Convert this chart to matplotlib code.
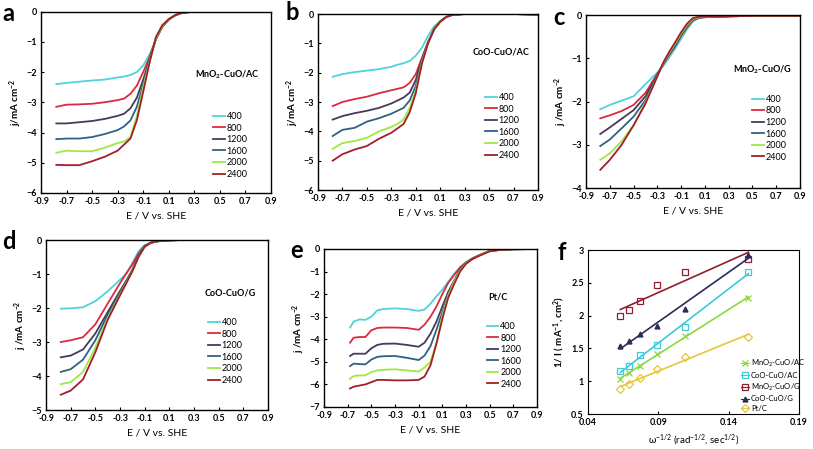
import numpy as np
import matplotlib.pyplot as plt
from matplotlib.lines import Line2D

plt.rcParams['font.family'] = ['Lato', 'DejaVu Sans']
plt.rcParams['mathtext.default'] = 'regular'

speeds = ['400', '800', '1200', '1600', '2000', '2400']
colors = ['#4fd2da', '#dc2a3c', '#463a5c', '#2e6184', '#9de845', '#a31d2b']

# a: MnO2-CuO/AC
E_a = [-0.78, -0.7, -0.6, -0.5, -0.4, -0.3, -0.25, -0.2, -0.15, -0.1, -0.05, 0.0, 0.05, 0.1, 0.15, 0.2, 0.3, 0.5, 0.7, 0.9]
j_a = [
    [-2.40, -2.36, -2.32, -2.28, -2.25, -2.18, -2.15, -2.10, -2.00, -1.78, -1.42, -0.92, -0.50, -0.27, -0.13, -0.05, 0, 0, 0, 0],
    [-3.15, -3.08, -3.07, -3.05, -3.00, -2.93, -2.88, -2.72, -2.45, -2.00, -1.50, -0.90, -0.50, -0.27, -0.13, -0.05, 0, 0, 0, 0],
    [-3.70, -3.70, -3.66, -3.62, -3.55, -3.45, -3.38, -3.20, -2.85, -2.25, -1.58, -0.90, -0.49, -0.26, -0.12, -0.05, 0, 0, 0, 0],
    [-4.22, -4.20, -4.20, -4.15, -4.05, -3.92, -3.80, -3.60, -3.15, -2.40, -1.62, -0.88, -0.48, -0.26, -0.12, -0.05, 0, 0, 0, 0],
    [-4.67, -4.60, -4.62, -4.62, -4.50, -4.35, -4.30, -4.15, -3.45, -2.50, -1.65, -0.87, -0.47, -0.25, -0.12, -0.05, 0, 0, 0, 0],
    [-5.07, -5.08, -5.08, -4.95, -4.80, -4.60, -4.40, -4.20, -3.60, -2.65, -1.68, -0.84, -0.45, -0.25, -0.12, -0.05, 0, 0, 0, 0],
]

# b: CoO-CuO/AC
E_b = [-0.78, -0.7, -0.6, -0.5, -0.4, -0.3, -0.25, -0.2, -0.15, -0.1, -0.05, 0.0, 0.05, 0.1, 0.15, 0.2, 0.3, 0.5, 0.7, 0.9]
j_b = [
    [-2.14, -2.05, -1.98, -1.93, -1.88, -1.80, -1.73, -1.68, -1.60, -1.42, -1.15, -0.75, -0.42, -0.24, -0.10, -0.03, 0, 0, 0, -0.02],
    [-3.14, -3.00, -2.90, -2.82, -2.70, -2.60, -2.55, -2.50, -2.35, -2.05, -1.50, -0.95, -0.52, -0.26, -0.10, -0.03, 0, 0, 0, -0.02],
    [-3.60, -3.48, -3.38, -3.30, -3.20, -3.05, -2.95, -2.85, -2.68, -2.25, -1.55, -0.98, -0.52, -0.26, -0.10, -0.03, 0, 0, 0, -0.02],
    [-4.16, -3.95, -3.88, -3.67, -3.55, -3.40, -3.30, -3.20, -2.95, -2.45, -1.60, -1.00, -0.52, -0.26, -0.10, -0.03, 0, 0, 0, -0.02],
    [-4.60, -4.40, -4.33, -4.22, -4.00, -3.85, -3.75, -3.60, -3.20, -2.60, -1.65, -1.00, -0.52, -0.26, -0.10, -0.03, 0, 0, 0, -0.02],
    [-5.00, -4.78, -4.62, -4.50, -4.25, -4.05, -3.90, -3.75, -3.35, -2.70, -1.70, -1.00, -0.52, -0.26, -0.10, -0.03, 0, 0, 0, -0.02],
]

# c: MnO2-CuO/G
E_c = [-0.78, -0.7, -0.6, -0.5, -0.4, -0.3, -0.25, -0.2, -0.15, -0.1, -0.05, 0.0, 0.05, 0.1, 0.2, 0.3, 0.5, 0.7, 0.9]
j_c = [
    [-2.18, -2.08, -1.98, -1.88, -1.60, -1.33, -1.18, -0.98, -0.78, -0.55, -0.33, -0.15, -0.07, -0.05, -0.04, -0.03, -0.02, -0.02, -0.02],
    [-2.39, -2.32, -2.22, -2.08, -1.80, -1.36, -1.14, -0.92, -0.72, -0.48, -0.28, -0.12, -0.06, -0.05, -0.04, -0.03, -0.02, -0.02, -0.02],
    [-2.75, -2.60, -2.40, -2.20, -1.88, -1.38, -1.13, -0.90, -0.70, -0.47, -0.26, -0.11, -0.06, -0.05, -0.04, -0.03, -0.02, -0.02, -0.02],
    [-3.03, -2.88, -2.62, -2.35, -1.97, -1.40, -1.12, -0.89, -0.68, -0.45, -0.25, -0.10, -0.05, -0.05, -0.04, -0.03, -0.02, -0.02, -0.02],
    [-3.35, -3.20, -2.92, -2.55, -2.02, -1.42, -1.11, -0.87, -0.66, -0.43, -0.23, -0.09, -0.05, -0.05, -0.04, -0.03, -0.02, -0.02, -0.02],
    [-3.58, -3.35, -3.00, -2.55, -2.05, -1.42, -1.10, -0.85, -0.63, -0.40, -0.20, -0.07, -0.04, -0.04, -0.04, -0.03, -0.02, -0.02, -0.02],
]

# d: CoO-CuO/G
E_d = [-0.78, -0.7, -0.6, -0.5, -0.4, -0.3, -0.25, -0.2, -0.15, -0.1, -0.05, 0.0, 0.05, 0.1, 0.2, 0.3, 0.5, 0.7, 0.9]
j_d = [
    [-2.02, -2.01, -1.98, -1.80, -1.51, -1.17, -0.99, -0.68, -0.33, -0.15, -0.08, -0.04, -0.02, -0.01, 0, 0, 0, 0, 0],
    [-3.00, -2.95, -2.86, -2.48, -1.87, -1.27, -0.99, -0.72, -0.40, -0.17, -0.08, -0.04, -0.02, -0.01, 0, 0, 0, 0, 0],
    [-3.45, -3.40, -3.22, -2.75, -2.12, -1.50, -1.20, -0.88, -0.45, -0.18, -0.08, -0.04, -0.02, -0.01, 0, 0, 0, 0, 0],
    [-3.88, -3.80, -3.52, -2.95, -2.20, -1.55, -1.23, -0.90, -0.47, -0.19, -0.08, -0.04, -0.02, -0.01, 0, 0, 0, 0, 0],
    [-4.24, -4.18, -3.88, -3.17, -2.30, -1.60, -1.26, -0.92, -0.50, -0.20, -0.08, -0.04, -0.02, -0.01, 0, 0, 0, 0, 0],
    [-4.55, -4.43, -4.10, -3.30, -2.35, -1.63, -1.28, -0.92, -0.50, -0.20, -0.08, -0.04, -0.02, -0.01, 0, 0, 0, 0, 0],
]

# e: Pt/C
E_e = [-0.68, -0.65, -0.6, -0.55, -0.5, -0.45, -0.4, -0.3, -0.2, -0.1, -0.05, 0.0, 0.05, 0.1, 0.15, 0.2, 0.25, 0.3, 0.35, 0.4, 0.5, 0.6, 0.7, 0.9]
j_e = [
    [-3.48, -3.22, -3.12, -3.14, -3.00, -2.72, -2.66, -2.63, -2.66, -2.74, -2.68, -2.42, -2.10, -1.80, -1.45, -1.10, -0.80, -0.58, -0.42, -0.30, -0.08, -0.03, -0.01, 0],
    [-4.15, -3.93, -3.90, -3.90, -3.60, -3.50, -3.48, -3.48, -3.50, -3.58, -3.35, -3.00, -2.55, -2.00, -1.50, -1.15, -0.82, -0.60, -0.43, -0.30, -0.08, -0.03, -0.01, 0],
    [-4.74, -4.64, -4.64, -4.64, -4.40, -4.25, -4.20, -4.19, -4.25, -4.33, -4.15, -3.75, -3.22, -2.55, -1.90, -1.40, -0.90, -0.62, -0.44, -0.31, -0.09, -0.03, -0.01, 0],
    [-5.19, -5.08, -5.10, -5.11, -4.90, -4.78, -4.75, -4.74, -4.82, -4.92, -4.72, -4.30, -3.58, -2.80, -2.05, -1.50, -0.93, -0.63, -0.45, -0.31, -0.09, -0.03, -0.01, 0],
    [-5.75, -5.63, -5.60, -5.60, -5.45, -5.38, -5.35, -5.33, -5.38, -5.43, -5.25, -5.00, -4.15, -2.95, -2.05, -1.45, -0.96, -0.64, -0.46, -0.32, -0.09, -0.03, -0.01, 0],
    [-6.18, -6.10, -6.05, -6.00, -5.90, -5.80, -5.80, -5.82, -5.82, -5.80, -5.65, -5.15, -4.20, -3.10, -2.15, -1.55, -1.00, -0.66, -0.46, -0.33, -0.10, -0.03, -0.01, 0],
]

# f: Koutecky-Levich
w_inv = [0.063, 0.069, 0.077, 0.089, 0.109, 0.154]
kl_names = ['MnO$_2$-CuO/AC', 'CoO-CuO/AC', 'MnO$_2$-CuO/G', 'CoO-CuO/G', 'Pt/C']
kl_vals = [
    [1.03, 1.12, 1.23, 1.42, 1.69, 2.27],
    [1.15, 1.23, 1.40, 1.55, 1.83, 2.67],
    [2.00, 2.09, 2.23, 2.46, 2.66, 2.87],
    [1.54, 1.61, 1.72, 1.84, 2.10, 2.93],
    [0.88, 0.95, 1.05, 1.18, 1.37, 1.68],
]
kl_colors = ['#8ed640', '#3cc9d8', '#8e1f2e', '#2c2b5c', '#e8c63a']
kl_markers = ['x', 's', 's', '^', 'D']

fig = plt.figure(figsize=(8.13, 4.49), dpi=100)


def lsv_panel(rect, E, J, ymin, ylabel, title, leg_xy, ann_xy):
    ax = fig.add_axes(rect)
    for jj, c, s in zip(J, colors, speeds):
        ax.plot(E, jj, color=c, lw=1.3, label=s)
    ax.set_xlim(-0.9, 0.9)
    ax.set_ylim(ymin, 0)
    ax.set_xticks(np.arange(-0.9, 0.91, 0.2))
    ax.set_xticklabels(['-0.9', '-0.7', '-0.5', '-0.3', '-0.1', '0.1', '0.3', '0.5', '0.7', '0.9'])
    ax.set_yticks(range(ymin, 1))
    ax.tick_params(direction='in', length=2.5, width=0.8, labelsize=6.5, pad=3)
    for t in ax.get_xticklabels() + ax.get_yticklabels():
        t.set_fontweight('bold')
    for sp in ax.spines.values():
        sp.set_linewidth(1.0)
    ax.set_xlabel('E / V vs. SHE', fontsize=7.5, labelpad=4)
    ax.set_ylabel(ylabel, fontsize=7, fontweight='bold', labelpad=2)
    ax.legend(loc='upper left', bbox_to_anchor=leg_xy, frameon=False, fontsize=6.5,
              handlelength=1.3, handletextpad=0.2, labelspacing=0.28,
              borderpad=0, borderaxespad=0)
    ax.text(ann_xy[0], ann_xy[1], title, transform=ax.transAxes, fontsize=6.5,
            fontweight='bold', va='center')
    return ax


W, H = 813, 449


def rect(l, r, t, b):
    return [l / W, (H - b) / H, (r - l) / W, (b - t) / H]


lsv_panel(rect(41, 271, 11.5, 193), E_a, j_a, -6, 'j/mA cm$^{-2}$', 'MnO$_2$-CuO/AC',
          (0.748, 0.446), (0.67, 0.65))
lsv_panel(rect(318, 538, 14, 190), E_b, j_b, -6, 'j/mA cm$^{-2}$', 'CoO-CuO/AC',
          (0.759, 0.551), (0.705, 0.784))
lsv_panel(rect(586, 800, 15, 188), E_c, j_c, -4, 'j /mA cm$^{-2}$', 'MnO$_2$-CuO/G',
          (0.776, 0.538), (0.687, 0.682))
lsv_panel(rect(46, 268, 240, 410), E_d, j_d, -5, 'j /mA cm$^{-2}$', 'CoO-CuO/G',
          (0.73, 0.541), (0.716, 0.688))
lsv_panel(rect(324, 537, 249, 407), E_e, j_e, -7, 'j /mA cm$^{-2}$', 'Pt/C',
          (0.764, 0.538), (0.77, 0.696))

# panel f
axf = fig.add_axes(rect(588, 799, 250, 414))
handles = []
for name, vals, c, m in zip(kl_names, kl_vals, kl_colors, kl_markers):
    k, b0 = np.polyfit(w_inv, vals, 1)
    xs = np.array([w_inv[0], w_inv[-1]])
    axf.plot(xs, k * xs + b0, color=c, lw=1.2)
    if m == '^':
        axf.plot(w_inv, vals, m, color=c, ms=3.5)
        h = Line2D([], [], color=c, marker=m, ms=3.5, lw=0.8)
    else:
        axf.plot(w_inv, vals, m, mfc='none', mec=c, ms=4, mew=0.9)
        h = Line2D([], [], color=c, marker=m, mfc='none', mec=c, ms=4, mew=0.9, lw=0.8)
    handles.append(h)
axf.set_xlim(0.04, 0.19)
axf.set_ylim(0.5, 3)
axf.set_xticks([0.04, 0.09, 0.14, 0.19])
axf.set_xticklabels(['0.04', '0.09', '0.14', '0.19'])
axf.set_yticks([0.5, 1, 1.5, 2, 2.5, 3])
axf.set_yticklabels(['0.5', '1', '1.5', '2', '2.5', '3'])
axf.tick_params(direction='in', length=2.5, width=0.8, labelsize=6.5, pad=3)
for t in axf.get_xticklabels() + axf.get_yticklabels():
    t.set_fontweight('bold')
axf.set_xlabel(r'$\omega^{-1/2}$ (rad$^{-1/2}$, sec$^{1/2}$)', fontsize=7, labelpad=4)
axf.set_ylabel('1/ I ( mA$^{-1}$, cm$^{2}$)', fontsize=7, fontweight='bold', labelpad=3)
axf.legend(handles, kl_names, loc='upper left', bbox_to_anchor=(0.725, 0.341), frameon=False,
           fontsize=5.5, handlelength=1.0, handletextpad=0.3, labelspacing=0.35,
           borderpad=0, borderaxespad=0)

# panel letters
for letter, x, y in [('a', 2, 21), ('b', 285, 20), ('c', 553, 25),
                     ('d', 2, 249), ('e', 290, 258), ('f', 557, 260)]:
    fig.text(x / W, 1 - y / H, letter, fontsize=17, fontweight='bold', va='baseline', ha='left')

fig.savefig('out.png', dpi=100)
